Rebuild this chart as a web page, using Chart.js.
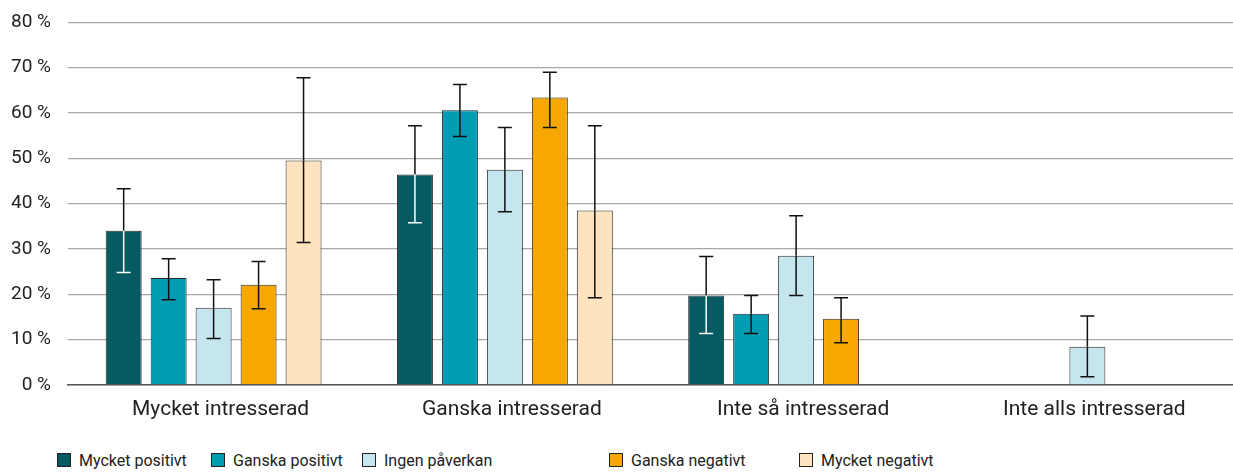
<!DOCTYPE html>
<html>
<head>
<meta charset="utf-8">
<script src="https://cdn.jsdelivr.net/npm/chart.js@4.4.0/dist/chart.umd.min.js"></script>
<style>
    body { margin: 0; background: #fff; font-family: Roboto, sans-serif; }
    .wrap { position: relative; width: 1233px; height: 472px; overflow: hidden; }
    .chart-box { position: absolute; left: 0; top: -6px; width: 1233px; height: 436px; }
    .legend { position: absolute; top: 451px; left: 0; width: 1233px; height: 20px; font-size: 16px; color: #222; }
    .legend span.item { position: absolute; top: 0; white-space: nowrap; line-height: 20px; }
    .legend i { display: inline-block; width: 12px; height: 12px; border: 1px solid #222; margin-right: 8px; vertical-align: -1px; }
</style>
</head>
<body>
<div class="wrap">
    <div class="chart-box"><canvas id="chart"></canvas></div>
    <div class="legend" id="legend"></div>
</div>
<script>
const categories = ['Mycket intresserad', 'Ganska intresserad', 'Inte så intresserad', 'Inte alls intresserad'];
const seriesNames = ['Mycket positivt', 'Ganska positivt', 'Ingen påverkan', 'Ganska negativt', 'Mycket negativt'];
const yTicks = [0, 10, 20, 30, 40, 50, 60, 70, 80];

// bar values per series (percent)
const mycketPositivt = [34.0, 46.4, 19.7, null];
const ganskaPositivt = [23.6, 60.6, 15.7, null];
const ingenPaverkan  = [17.0, 47.5, 28.5, 8.4];
const ganskaNegativt = [22.1, 63.4, 14.6, null];
const mycketNegativt = [49.5, 38.5, null, null];

// confidence interval low / high per series
const lowMP = [24.8, 35.8, 11.3, null];
const highMP = [43.3, 57.2, 28.3, null];
const lowGP = [18.8, 54.8, 11.3, null];
const highGP = [27.8, 66.3, 19.7, null];
const lowIP = [10.2, 38.2, 19.7, 1.8];
const highIP = [23.2, 56.8, 37.3, 15.2];
const lowGN = [16.8, 56.8, 9.3, null];
const highGN = [27.2, 69.0, 19.2, null];
const lowMN = [31.4, 19.2, null, null];
const highMN = [67.8, 57.2, null, null];

const colors = ['#065a61', '#009cb3', '#c6e6ef', '#f6a800', '#fde4bf'];
const values = [mycketPositivt, ganskaPositivt, ingenPaverkan, ganskaNegativt, mycketNegativt];
const lows = [lowMP, lowGP, lowIP, lowGN, lowMN];
const highs = [highMP, highGP, highIP, highGN, highMN];

const errorBars = {
    id: 'errorBars',
    afterDatasetsDraw(chart) {
        const ctx = chart.ctx;
        const yScale = chart.scales.y;
        chart.data.datasets.forEach((ds, i) => {
            const meta = chart.getDatasetMeta(i);
            meta.data.forEach((bar, j) => {
                const lo = lows[i][j], hi = highs[i][j];
                if (lo == null || hi == null || ds.data[j] == null) return;
                const x = bar.x;
                const yLo = yScale.getPixelForValue(lo);
                const yHi = yScale.getPixelForValue(hi);
                const yTop = bar.y;
                const cap = 7;
                const inner = i === 0 ? '#ffffff' : '#111111';
                ctx.save();
                ctx.lineWidth = 1.5;
                // part above bar top
                ctx.strokeStyle = '#111111';
                ctx.beginPath();
                ctx.moveTo(x, yHi);
                ctx.lineTo(x, Math.min(yTop, yLo));
                ctx.moveTo(x - cap, yHi);
                ctx.lineTo(x + cap, yHi);
                ctx.stroke();
                // part inside bar
                ctx.strokeStyle = yLo > yTop ? inner : '#111111';
                ctx.beginPath();
                ctx.moveTo(x, Math.max(yTop, yHi));
                ctx.lineTo(x, yLo);
                ctx.moveTo(x - cap, yLo);
                ctx.lineTo(x + cap, yLo);
                ctx.stroke();
                ctx.restore();
            });
        });
    }
};

new Chart(document.getElementById('chart').getContext('2d'), {
    type: 'bar',
    data: {
        labels: categories,
        datasets: seriesNames.map((name, i) => ({
            label: name,
            data: values[i],
            backgroundColor: colors[i],
            borderColor: '#2a2a2a',
            borderWidth: 1,
            categoryPercentage: 0.772,
            barPercentage: 0.8
        }))
    },
    options: {
        responsive: true,
        maintainAspectRatio: false,
        animation: false,
        layout: { padding: { left: -6, right: 0, top: 2, bottom: 4 } },
        plugins: {
            legend: { display: false },
            tooltip: { enabled: false }
        },
        scales: {
            x: {
                grid: { display: false },
                border: { color: '#555', width: 1.5 },
                ticks: { color: '#222', font: { family: 'Roboto', size: 21 }, padding: 4, labelOffset: 7 }
            },
            y: {
                min: 0,
                max: 80,
                afterBuildTicks: (axis) => { axis.ticks = yTicks.map(v => ({ value: v })); },
                grid: { color: '#a8a8a8', lineWidth: 1.2, drawTicks: false },
                border: { display: false },
                ticks: {
                    color: '#222',
                    font: { family: 'Roboto', size: 19 },
                    padding: 17,
                    callback: v => v + ' %'
                }
            }
        }
    },
    plugins: [errorBars]
});

// legend
const legendLeft = [57, 211, 362, 609, 799];
const legend = document.getElementById('legend');
seriesNames.forEach((name, i) => {
    const item = document.createElement('span');
    item.className = 'item';
    item.style.left = legendLeft[i] + 'px';
    item.innerHTML = '<i style="background:' + colors[i] + '"></i>' + name;
    legend.appendChild(item);
});
</script>
</body>
</html>
